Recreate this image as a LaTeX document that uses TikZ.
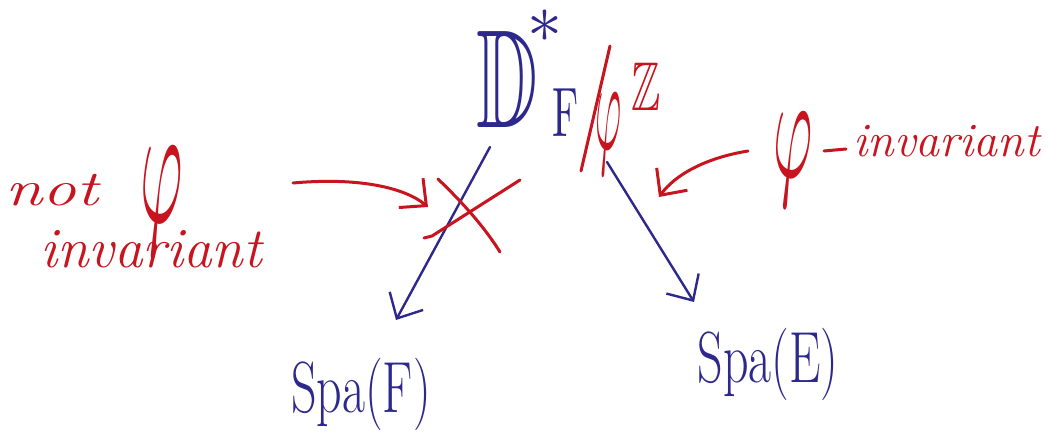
\documentclass[tikz,border=0pt]{standalone}
\usepackage{amssymb}
\usepackage{fontspec}
\usetikzlibrary{arrows.meta}
\definecolor{ink}{RGB}{45,40,140}
\definecolor{pen}{RGB}{200,20,30}
\begin{document}
\begin{tikzpicture}[x=1pt,y=-1pt,
  blueline/.style={draw=ink, line width=2.4pt, line cap=round, line join=round},
  redline/.style={draw=pen, line width=3pt, line cap=round, line join=round},
  barb/.style={-{Straight Barb[length=20pt,width=38pt]}},
  glyph/.style={inner sep=0pt, anchor=center},
  redlab/.style={inner sep=0pt, text=pen, font=\fontsize{50}{50}\selectfont\itshape},
  bluelab/.style={inner sep=0pt, text=ink, font=\fontsize{50}{50}\selectfont}]
\useasboundingbox[fill=white] (0,0) rectangle (1050,443);
% top expression
\node[glyph, text=ink] (Dbb) at (507,79) {\scalebox{8.5}[14]{$\mathbb{D}$}};
\node[glyph, text=ink] (star) at (545,26) {\scalebox{7}[7]{$\ast$}};
\node[glyph, text=ink, anchor=south] (Fsub) at (566,137) {\scalebox{4}[7]{$\mathrm{F}$}};
\coordinate (slashtop) at (610,46);
\coordinate (slashbot) at (581,171);
\draw[redline] (slashtop) -- (slashbot);
\node[glyph, text=pen] (phi) at (609,134) {\scalebox{4}[13]{$\varphi$}};
\node[glyph, text=pen] (Zsup) at (646,87) {\scalebox{4.4}[6.9]{$\mathbb{Z}$}};
% targets
\node[bluelab] (SpaF) at (361,394) {\scalebox{1}[1.45]{Spa(F)}};
\node[bluelab] (SpaE) at (768,364) {\scalebox{1}[1.45]{Spa(E)}};
% labels
\node[redlab, anchor=base west] (nottxt) at (5,206) {\scalebox{1.35}[1]{not}};
\node[glyph, text=pen] (phiL) at (162,202) {\scalebox{6.5}[17.5]{$\varphi$}};
\node[redlab, anchor=base west, font=\fontsize{57}{57}\selectfont\itshape] (invL) at (40,268) {invariant};
\node[glyph, text=pen] (phiR) at (793,160) {\scalebox{6}[15]{$\varphi$}};
\coordinate (dashA) at (824,151);
\coordinate (dashB) at (846,149);
\draw[redline] (dashA) -- (dashB);
\node[redlab, anchor=base west, font=\fontsize{48}{48}\selectfont\itshape] (invR) at (853,157) {invariant};
% blue arrows
\coordinate (Dleft) at (490,147);
\coordinate (Fend) at (396,320);
\coordinate (Dright) at (607,162);
\coordinate (Eend) at (694,302);
\draw[blueline, barb] (Dleft) -- (Fend);
\draw[blueline, barb] (Dright) -- (Eend);
% red cross
\coordinate (crossA1) at (432,236);
\coordinate (crossA2) at (520,180);
\coordinate (crossB1) at (438,179);
\coordinate (crossB2) at (500,252);
\draw[redline] (424,238) -- (crossA1) -- (crossA2);
\draw[redline] (crossB1) .. controls (465,205) and (485,228) .. (crossB2);
% red arrows
\coordinate (notstart) at (293,183);
\coordinate (crosstip) at (428,207);
\draw[redline, barb] (notstart) .. controls (360,177) and (405,188) .. (crosstip);
\coordinate (invstart) at (748,151);
\coordinate (invtip) at (659,197);
\draw[redline, barb] (invstart) .. controls (705,158) and (675,175) .. (invtip);
\end{tikzpicture}
\end{document}
